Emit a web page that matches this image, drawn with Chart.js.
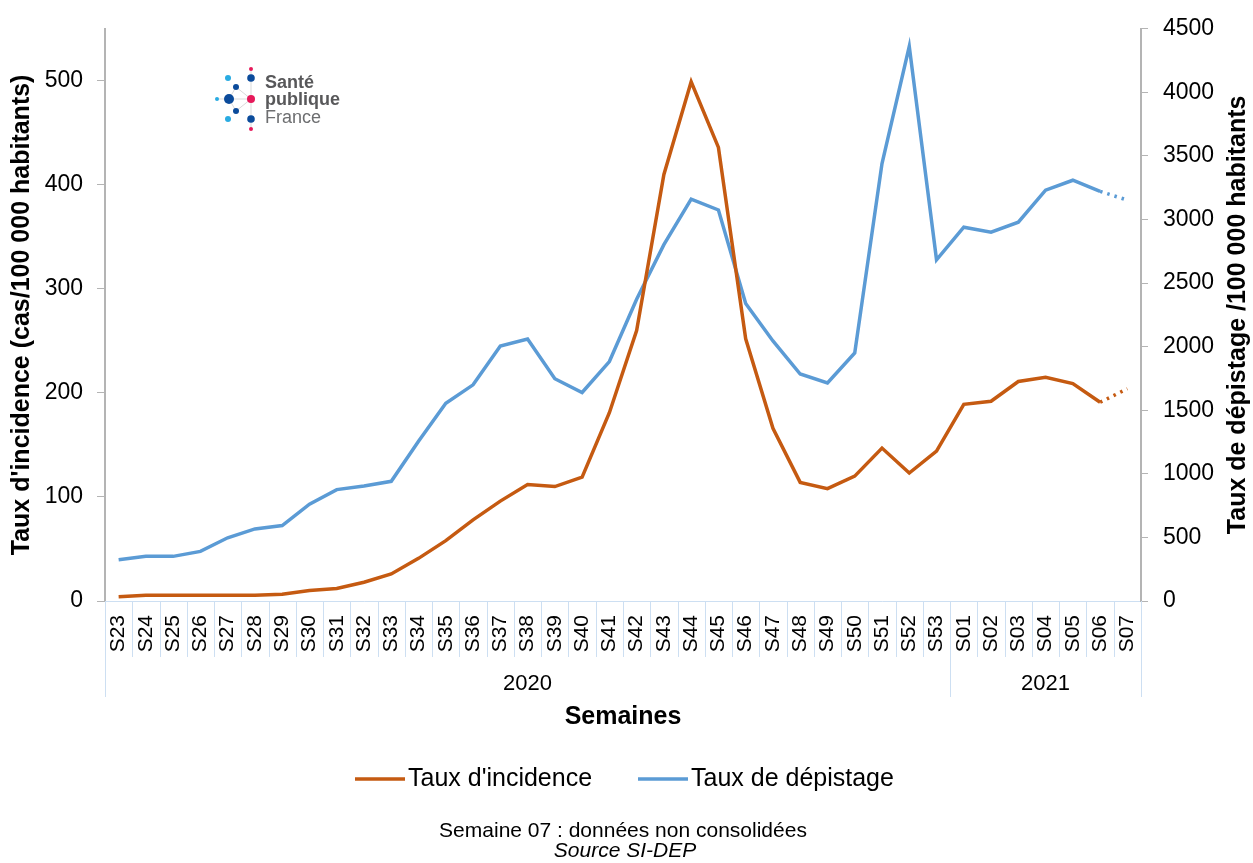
<!DOCTYPE html>
<html>
<head>
<meta charset="utf-8">
<script src="https://cdn.jsdelivr.net/npm/chart.js@4"></script>
<style>
  html, body { margin: 0; padding: 0; background: #fff; }
</style>
</head>
<body>
<canvas id="chart" width="1253" height="863"></canvas>
<script>
const weeks = ['S23','S24','S25','S26','S27','S28','S29','S30','S31','S32','S33','S34','S35','S36','S37','S38','S39','S40','S41','S42','S43','S44','S45','S46','S47','S48','S49','S50','S51','S52','S53',
               'S01','S02','S03','S04','S05','S06','S07'];
const incidence = [4, 5.5, 5.5, 5.5, 5.5, 5.5, 6.5, 10, 12, 18, 26, 41, 58, 78, 96, 112, 110, 119, 181, 260, 410, 499, 436, 252, 166, 114, 108, 120, 147, 123, 144,
                   189, 192, 211, 215, 209, 191, 204];
const depistage = [325, 351, 351, 390, 497, 567, 593, 762, 876, 905, 941, 1256, 1555, 1700, 2005, 2060, 1748, 1640, 1883, 2373, 2802, 3161, 3075, 2340, 2045, 1785, 1715, 1950, 3440, 4362, 2683,
                   2940, 2901, 2979, 3231, 3309, 3221, 3153];
const years = ['2020', '2021'];
const yearStart = [0, 31];
const leftTicks = [0, 100, 200, 300, 400, 500];
const rightTicks = [0, 500, 1000, 1500, 2000, 2500, 3000, 3500, 4000, 4500];

const orange = '#C55A11';
const blue = '#5B9BD5';
const axisGray = '#b4b4b4';
const sepBlue = '#cddff2';
const FONT = "'Liberation Sans', Arial, sans-serif";

// last segment (S06 -> S07) is dotted: non consolidated data
const dottedLast = ctx => ctx.p1DataIndex === weeks.length - 1 ? [2.5, 5] : undefined;

const decor = {
  id: 'decor',
  afterDraw(chart) {
    const { ctx, chartArea, scales } = chart;
    const xs = scales.x;
    const half = (xs.getPixelForValue(1) - xs.getPixelForValue(0)) / 2;
    const bottom = chartArea.bottom;
    ctx.save();

    // category separators under the axis
    ctx.strokeStyle = sepBlue;
    ctx.lineWidth = 1;
    const bounds = yearStart.concat([weeks.length]);
    for (let i = 0; i <= weeks.length; i++) {
      const x = Math.round(xs.getPixelForValue(i) - half) + 0.5;
      const long = bounds.includes(i);
      ctx.beginPath();
      ctx.moveTo(x, bottom);
      ctx.lineTo(x, bottom + (long ? 96 : 56));
      ctx.stroke();
    }

    // year row
    ctx.fillStyle = '#000';
    ctx.font = '22px ' + FONT;
    ctx.textAlign = 'center';
    ctx.textBaseline = 'middle';
    years.forEach((y, k) => {
      const a = xs.getPixelForValue(bounds[k]) - half;
      const b = xs.getPixelForValue(bounds[k + 1]) - half;
      ctx.fillText(y, (a + b) / 2, bottom + 83);
    });

    // right axis title (reads bottom to top)
    ctx.save();
    ctx.translate(1238, (chartArea.top + chartArea.bottom) / 2);
    ctx.rotate(-Math.PI / 2);
    ctx.font = 'bold 25px ' + FONT;
    ctx.fillText('Taux de dépistage /100 000 habitants', 0, 0);
    ctx.restore();

    // legend
    const ly = 779;
    ctx.lineWidth = 3.5;
    ctx.strokeStyle = orange;
    ctx.beginPath(); ctx.moveTo(355, ly); ctx.lineTo(405, ly); ctx.stroke();
    ctx.strokeStyle = blue;
    ctx.beginPath(); ctx.moveTo(638, ly); ctx.lineTo(688, ly); ctx.stroke();
    ctx.textAlign = 'left';
    ctx.font = '25px ' + FONT;
    ctx.fillText("Taux d'incidence", 408, ly);
    ctx.fillText('Taux de dépistage', 691, ly);

    // footnote
    ctx.textAlign = 'center';
    ctx.font = '21px ' + FONT;
    ctx.fillText('Semaine 07 : données non consolidées', 623, 831);
    ctx.font = 'italic 21px ' + FONT;
    ctx.fillText('Source SI-DEP', 625, 851);

    // Santé publique France logo
    ctx.strokeStyle = '#d9d9d9';
    ctx.lineWidth = 1;
    [[229, 99, 251, 99], [251, 69, 251, 129], [229, 99, 236, 87], [229, 99, 236, 111], [236, 87, 251, 99], [236, 111, 251, 99], [217, 99, 229, 99]]
      .forEach(l => { ctx.beginPath(); ctx.moveTo(l[0], l[1]); ctx.lineTo(l[2], l[3]); ctx.stroke(); });
    const dots = [
      [228, 78, 3, '#29abe2'], [251, 78, 3.8, '#0b4b9b'], [251, 69, 2, '#e6195a'],
      [236, 87, 3, '#0b4b9b'], [217, 99, 2, '#29abe2'], [229, 99, 5, '#0b4b9b'],
      [251, 99, 4, '#e6195a'], [236, 111, 3, '#0b4b9b'], [228, 119, 3, '#29abe2'],
      [251, 119, 3.8, '#0b4b9b'], [251, 129, 2, '#e6195a']
    ];
    dots.forEach(d => { ctx.fillStyle = d[3]; ctx.beginPath(); ctx.arc(d[0], d[1], d[2], 0, Math.PI * 2); ctx.fill(); });
    ctx.fillStyle = '#58585a';
    ctx.textAlign = 'left';
    ctx.font = 'bold 18px ' + FONT;
    ctx.fillText('Santé', 265, 83);
    ctx.fillText('publique', 265, 100);
    ctx.font = '18px ' + FONT;
    ctx.fillStyle = '#6d6e70';
    ctx.fillText('France', 265, 118);

    ctx.restore();
  }
};

const chart = new Chart(document.getElementById('chart').getContext('2d'), {
  type: 'line',
  data: {
    labels: weeks,
    datasets: [
      {
        label: "Taux d'incidence",
        data: incidence,
        yAxisID: 'y',
        borderColor: orange,
        backgroundColor: orange,
        borderWidth: 3.5,
        pointRadius: 0,
        tension: 0,
        segment: { borderDash: dottedLast }
      },
      {
        label: 'Taux de dépistage',
        data: depistage,
        yAxisID: 'y1',
        borderColor: blue,
        backgroundColor: blue,
        borderWidth: 3.5,
        pointRadius: 0,
        tension: 0,
        segment: { borderDash: dottedLast }
      }
    ]
  },
  options: {
    responsive: false,
    animation: false,
    layout: { padding: { top: 24, bottom: 128, left: 0, right: 0 } },
    plugins: {
      legend: { display: false },
      tooltip: { enabled: false }
    },
    scales: {
      x: {
        offset: true,
        grid: { display: false, drawTicks: false },
        border: { display: true, color: sepBlue, width: 1 },
        ticks: {
          autoSkip: false,
          minRotation: 90,
          maxRotation: 90,
          padding: 14,
          color: '#000',
          font: { family: FONT, size: 21 }
        },
        title: {
          display: true,
          text: 'Semaines',
          color: '#000',
          font: { family: FONT, size: 25, weight: 'bold', lineHeight: 1.2 },
          padding: { top: 0, bottom: 3 }
        },
        afterFit: s => { s.height = 134; }
      },
      y: {
        position: 'left',
        min: 0,
        max: 550,
        afterBuildTicks: s => { s.ticks = leftTicks.map(v => ({ value: v })); },
        grid: { drawOnChartArea: false, color: axisGray, tickLength: 8 },
        border: { color: axisGray, width: 2 },
        ticks: { padding: 14, color: '#000', font: { family: FONT, size: 23 }, callback: v => String(v) },
        title: {
          display: true,
          text: "Taux d'incidence (cas/100 000 habitants)",
          color: '#000',
          font: { family: FONT, size: 25, weight: 'bold', lineHeight: 1.2 },
          padding: { top: 7, bottom: 0 }
        },
        afterFit: s => { s.width = 105; }
      },
      y1: {
        position: 'right',
        min: 0,
        max: 4500,
        afterBuildTicks: s => { s.ticks = rightTicks.map(v => ({ value: v })); },
        grid: { drawOnChartArea: false, color: axisGray, tickLength: 7 },
        border: { color: axisGray, width: 2 },
        ticks: { padding: 15, color: '#000', font: { family: FONT, size: 23 }, callback: v => String(v) },
        afterFit: s => { s.width = 112; }
      }
    }
  },
  plugins: [decor]
});
</script>
</body>
</html>
